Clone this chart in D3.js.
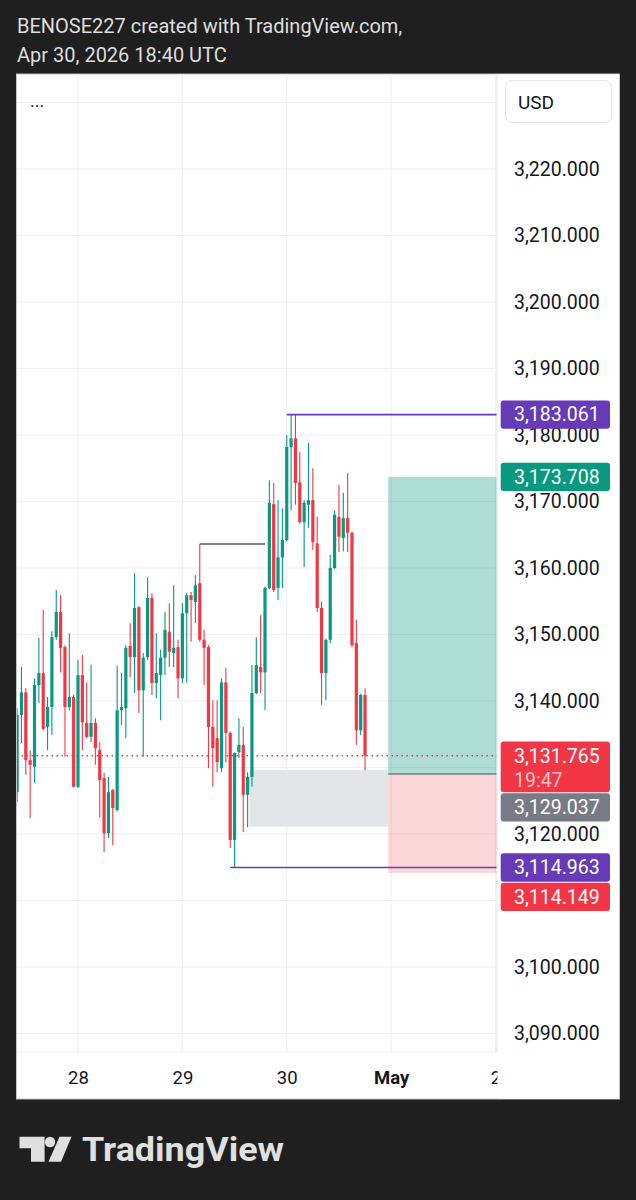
<!DOCTYPE html>
<html><head><meta charset="utf-8">
<script src="https://cdn.jsdelivr.net/npm/d3@7"></script>
<style>html,body{margin:0;padding:0;background:#1f1f1f;}svg{display:block;font-family:Roboto,"Noto Sans",sans-serif;}</style>
</head><body><svg id="c" width="636" height="1200"></svg>
<script>
// ---------- DATA ----------
const headerLines = ["BENOSE227 created with TradingView.com,", "Apr 30, 2026 18:40 UTC"];
const firstCandle = Date.UTC(2026, 3, 27, 10); // hourly candles from Apr 27 10:00 UTC
const opens  = [3126.3,3137.9,3141.3,3131.1,3130.1,3142.4,3144.2,3136.1,3139.1,3149.6,3153.4,3148.1,3139.1,3140.6,
  3127.1,3143.9,3136.7,3134.6,3136.7,3132.6,3128.4,3120.1,3126.6,3123.6,3138.6,3138.9,3148.3,3146.6,3154.1,3141.6,
  3146.6,3155.5,3142.7,3143.9,3146.5,3150.4,3147.2,3148.1,3143.4,3153.2,3155.9,3154.9,3157.7,3149.2,3148.1,3136.1,
  3134.4,3129.9,3142.8,3135.2,3119.1,3132.3,3133.4,3125.9,3128.6,3141.2,3145.1,3144.3,3157.0,3169.6,3157.0,3161.6,
  3164.2,3178.2,3179.5,3172.9,3166.9,3169.5,3170.2,3163.7,3154.0,3144.2,3149.2,3160.0,3167.7,3164.5,3167.5,3165.3,
  3148.7,3135.6,3140.9];
const highs  = [3138.9,3145.1,3141.9,3132.6,3143.4,3149.5,3153.7,3140.6,3150.5,3156.7,3155.9,3148.4,3150.2,3140.9,
  3146.2,3146.9,3142.8,3145.5,3137.4,3133.8,3129.2,3128.6,3126.8,3145.3,3144.2,3148.4,3151.7,3159.2,3154.3,3147.2,
  3158.6,3156.2,3150.2,3147.7,3153.4,3154.7,3157.4,3149.2,3154.7,3156.2,3156.4,3158.9,3163.6,3150.7,3148.4,3140.1,
  3140.1,3143.4,3145.0,3135.4,3132.2,3137.4,3136.1,3129.3,3145.4,3149.6,3152.9,3157.2,3173.2,3172.8,3170.2,3169.0,
  3180.0,3183.0,3183.061,3177.4,3170.2,3178.8,3175.0,3167.7,3154.9,3149.4,3162.0,3168.7,3172.5,3171.3,3174.3,3165.5,
  3152.2,3141.1,3141.9];
const lows   = [3124.8,3133.7,3128.9,3122.4,3127.7,3139.7,3135.6,3132.6,3134.9,3149.2,3144.3,3131.6,3138.6,3127.0,
  3126.9,3132.6,3134.4,3133.8,3130.4,3122.5,3117.3,3119.4,3118.3,3123.4,3136.4,3134.4,3143.6,3141.2,3138.2,3131.6,
  3146.2,3140.9,3140.4,3137.1,3143.9,3145.1,3145.1,3140.4,3142.7,3142.8,3148.9,3151.7,3148.9,3142.4,3129.9,3127.1,
  3129.3,3129.3,3130.8,3117.9,3114.963,3131.4,3120.3,3121.0,3127.1,3141.0,3141.2,3138.6,3156.8,3156.4,3155.2,3157.0,
  3164.0,3168.7,3169.5,3166.7,3160.1,3166.0,3162.7,3153.4,3139.4,3140.1,3148.7,3159.8,3162.4,3162.5,3162.4,3148.1,
  3133.4,3134.9,3129.6];
const closes = [3137.9,3141.3,3131.1,3130.4,3142.4,3144.2,3135.8,3139.1,3149.6,3153.4,3148.0,3139.1,3140.6,3127.1,
  3143.9,3136.8,3134.6,3136.7,3132.9,3128.1,3120.1,3126.3,3123.9,3138.6,3139.1,3148.0,3146.6,3154.0,3141.6,3146.5,
  3155.5,3142.7,3144.2,3146.5,3150.7,3147.4,3148.0,3143.4,3153.2,3155.9,3155.2,3157.4,3149.2,3148.0,3136.1,3132.9,
  3130.8,3142.8,3135.2,3119.1,3132.2,3133.4,3125.9,3128.6,3141.2,3145.4,3144.3,3157.0,3169.8,3156.7,3161.6,3164.2,
  3178.2,3179.5,3172.8,3166.9,3169.8,3170.2,3163.9,3154.0,3144.2,3149.2,3160.0,3168.0,3164.7,3167.5,3165.3,3148.4,
  3135.6,3140.9,3131.765];
// 3,130 and 3,110 axis labels are hidden behind price labels in the reference
const priceTicks = [3090,3100,3120,3140,3150,3160,3170,3180,3190,3200,3210,3220];
const gridPrices = [3090,3100,3110,3120,3130,3140,3150,3160,3170,3180,3190,3200,3210,3220,3230];
const dayTicks = [Date.UTC(2026,3,28), Date.UTC(2026,3,29), Date.UTC(2026,3,30), Date.UTC(2026,4,1), Date.UTC(2026,4,2)];
const dayLabels = ["28", "29", "30", "May", "2"];
const boldDay = ["May"];
const lastPrice = 3131.765, countdown = "19:47";
const swingHigh = {price: 3183.061, from: Date.UTC(2026,3,30,0)};
const swingLow  = {price: 3114.963, from: Date.UTC(2026,3,29,11)};
const midLevel  = {price: 3163.6, from: Date.UTC(2026,3,29,4), to: Date.UTC(2026,3,29,19)};
const grayZone  = {top: 3129.6, bottom: 3121.1, from: Date.UTC(2026,3,29,15,24), to: Date.UTC(2026,3,30,23,20)};
const position  = {entry: 3129.037, target: 3173.708, stop: 3114.149, from: Date.UTC(2026,3,30,23,20), to: Date.UTC(2026,4,2,12)};

// ---------- LAYOUT ----------
const svg = d3.select('#c');
const P = {left: 16.5, top: 74, right: 619.5, bottom: 1099};
const plotRight = 497, timeTop = 1052;
const up = '#089981', down = '#f23645';

svg.append('rect').attr('width', 636).attr('height', 1200).attr('fill', '#1f1f1f');
svg.selectAll('text.hdr').data(headerLines).join('text').attr('class','hdr')
  .attr('x', 17).attr('y', (d,i) => 33 + i*29).attr('fill', '#dedede').attr('font-size', 20).text(d => d);

svg.append('rect').attr('x', P.left).attr('y', P.top).attr('width', P.right-P.left).attr('height', P.bottom-P.top)
  .attr('fill', '#fff').attr('stroke', '#c4c4c4').attr('stroke-width', 1);

const x = d3.scaleUtc().domain([dayTicks[0], dayTicks[4]]).range([78, 495.5]);
const y = d3.scaleLinear().domain([3090, 3220]).range([1033.5, 169]);

svg.append('clipPath').attr('id','plot').append('rect')
  .attr('x', P.left+0.5).attr('y', P.top+0.5).attr('width', plotRight-P.left-0.5).attr('height', timeTop-P.top-0.5);
const g = svg.append('g').attr('clip-path', 'url(#plot)');

// grid
g.selectAll('line.hg').data(gridPrices).join('line').attr('class','hg')
  .attr('x1', P.left).attr('x2', plotRight).attr('y1', d => y(d)).attr('y2', d => y(d))
  .attr('stroke', '#f0f1f4').attr('stroke-width', 1.2);
g.selectAll('line.vg').data(dayTicks).join('line').attr('class','vg')
  .attr('x1', d => x(d)).attr('x2', d => x(d)).attr('y1', P.top).attr('y2', timeTop)
  .attr('stroke', '#f0f1f4').attr('stroke-width', 1.2);

// gray zone
g.append('rect').attr('x', x(grayZone.from)).attr('width', x(grayZone.to)-x(grayZone.from))
  .attr('y', y(grayZone.top)).attr('height', y(grayZone.bottom)-y(grayZone.top)).attr('fill', '#e4e5e9');

// long position
g.append('rect').attr('x', x(position.from)).attr('width', x(position.to)-x(position.from))
  .attr('y', y(position.target)).attr('height', y(position.entry)-y(position.target)).attr('fill', 'rgba(8,153,129,0.33)');
g.append('rect').attr('x', x(position.from)).attr('width', x(position.to)-x(position.from))
  .attr('y', y(position.entry)).attr('height', y(position.stop)-y(position.entry)).attr('fill', 'rgba(242,54,69,0.2)');
g.append('line').attr('x1', x(position.from)).attr('x2', x(position.to))
  .attr('y1', y(position.entry)).attr('y2', y(position.entry)).attr('stroke', '#787b86').attr('stroke-width', 1.5);

// last price dotted line
g.append('line').attr('x1', P.left).attr('x2', plotRight).attr('y1', y(lastPrice)).attr('y2', y(lastPrice))
  .attr('stroke', down).attr('stroke-width', 1.5).attr('stroke-dasharray', '1.5,3.5');

// candles
const candles = opens.map((o, i) => ({t: firstCandle + i*3600000, o, h: highs[i], l: lows[i], c: closes[i]}));
const cg = g.append('g');
cg.selectAll('line.wick').data(candles).join('line').attr('class','wick')
  .attr('x1', d => x(d.t)).attr('x2', d => x(d.t)).attr('y1', d => y(d.h)).attr('y2', d => y(d.l))
  .attr('stroke', d => d.c >= d.o ? up : down).attr('stroke-width', 1.1);
cg.selectAll('rect.body').data(candles).join('rect').attr('class','body')
  .attr('x', d => x(d.t)-1.6).attr('width', 3.2)
  .attr('y', d => Math.min(y(d.o), y(d.c))).attr('height', d => Math.max(1, Math.abs(y(d.o)-y(d.c))))
  .attr('fill', d => d.c >= d.o ? up : down);

// level lines
g.append('line').attr('x1', x(midLevel.from)).attr('x2', x(midLevel.to)).attr('y1', y(midLevel.price)).attr('y2', y(midLevel.price))
  .attr('stroke', '#5d5a66').attr('stroke-width', 1.5);
[swingHigh, swingLow].forEach(s => {
  g.append('line').attr('x1', x(s.from)).attr('x2', plotRight).attr('y1', y(s.price)).attr('y2', y(s.price))
    .attr('stroke', '#673ab7').attr('stroke-width', 1.6);
});

// separators
svg.append('line').attr('x1', P.left+0.5).attr('x2', plotRight).attr('y1', timeTop).attr('y2', timeTop).attr('stroke', '#f0f1f4');

// time axis
const tAxis = svg.append('g').attr('transform', `translate(0,${timeTop})`)
  .call(d3.axisBottom(x).tickValues(dayTicks).tickFormat((d,i) => dayLabels[i]).tickSize(0).tickPadding(18.5));
tAxis.select('.domain').remove();
tAxis.selectAll('text').attr('font-size', 18.5).attr('fill', '#131722').attr('font-family', 'Roboto, sans-serif')
  .attr('font-weight', (d,i) => boldDay.includes(dayLabels[i]) ? 700 : 400);

// price axis background
svg.append('rect').attr('x', plotRight+0.5).attr('y', P.top+0.5).attr('width', P.right-plotRight-1).attr('height', P.bottom-P.top-1).attr('fill', '#fff');
svg.append('line').attr('x1', plotRight).attr('x2', plotRight).attr('y1', P.top).attr('y2', timeTop).attr('stroke', '#e6e8ee').attr('stroke-width', 1.2);

const pAxis = svg.append('g').attr('transform', `translate(${plotRight},0)`)
  .call(d3.axisRight(y).tickValues(priceTicks).tickFormat(d3.format(',.3f')).tickSize(0).tickPadding(17));
pAxis.select('.domain').remove();
pAxis.selectAll('text').attr('font-size', 19.5).attr('fill', '#131722').attr('font-family', 'Roboto, sans-serif');

// price labels with collision stacking
const fmt = d3.format(',.3f');
const labels = [
  {price: swingHigh.price, color: '#673ab7', lines: [fmt(swingHigh.price)]},
  {price: position.target, color: up, lines: [fmt(position.target)]},
  {price: lastPrice, color: down, lines: [fmt(lastPrice), countdown]},
  {price: position.entry, color: '#787b86', lines: [fmt(position.entry)]},
  {price: swingLow.price, color: '#673ab7', lines: [fmt(swingLow.price)]},
  {price: position.stop, color: down, lines: [fmt(position.stop)]}
].sort((a,b) => b.price - a.price);
let prevBottom = -Infinity;
labels.forEach(L => {
  const h = L.lines.length === 1 ? 28.3 : 50.6;
  const top = Math.max(y(L.price) - 14.15, prevBottom + 1);
  prevBottom = top + h;
  svg.append('rect').attr('x', 500.7).attr('y', top).attr('width', 109.3).attr('height', h).attr('rx', 3).attr('fill', L.color);
  L.lines.forEach((t, i) => {
    svg.append('text').attr('x', 514).attr('y', top + 14.15 + i*24.5).attr('dy', '0.35em')
      .attr('font-size', 19.5).attr('fill', i === 0 ? '#fff' : 'rgba(255,255,255,0.72)').text(t);
  });
});

// USD button and menu dots
svg.append('rect').attr('x', 505.5).attr('y', 80.5).attr('width', 106).attr('height', 42).attr('rx', 7)
  .attr('fill', '#fff').attr('stroke', '#e0e3eb');
svg.append('text').attr('x', 518).attr('y', 108.5).attr('font-size', 19).attr('fill', '#131722').text('USD');
svg.append('text').attr('x', 30).attr('y', 107).attr('font-size', 18).attr('fill', '#333').text('...');

// TradingView logo
const logo = svg.append('g').attr('fill', '#e0e0e0');
logo.append('path').attr('d', 'M19.5,1136.7 H44.6 V1161.7 H31 V1148.3 H19.5 Z');
logo.append('circle').attr('cx', 50).attr('cy', 1142).attr('r', 5.2);
logo.append('path').attr('d', 'M59.5,1136.7 H71.5 L61,1161.7 H48.5 Z');
logo.append('text').attr('x', 82).attr('y', 1161).attr('font-size', 34).attr('font-weight', 700)
  .attr('fill', '#e0e0e0').attr('textLength', 202).attr('lengthAdjust', 'spacingAndGlyphs').text('TradingView');
</script></body></html>
